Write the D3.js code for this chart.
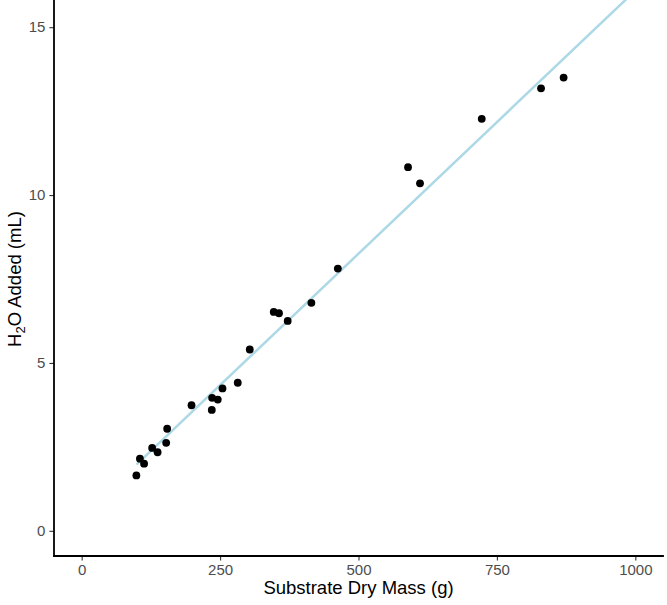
<!DOCTYPE html>
<html>
<head>
<meta charset="utf-8">
<script src="https://cdn.jsdelivr.net/npm/d3@7"></script>
<style>
  html, body { margin: 0; padding: 0; background: #fff; }
  svg { display: block; font-family: "Liberation Sans", Arial, Helvetica, sans-serif; }
</style>
</head>
<body>
<svg id="chart" width="667" height="605"></svg>
<script>
// Data
const dryMass = [98.8, 105.2, 112.7, 127.3, 137.1, 152.6, 154.4, 198.4, 235.0, 235.6, 245.8, 254.3,
                 281.9, 303.6, 346.9, 356.4, 372.1, 414.9, 462.7, 589.5, 611.1, 722.6, 829.7, 870.5];
const waterAdded = [1.65, 2.15, 2.00, 2.47, 2.34, 2.62, 3.04, 3.74, 3.60, 3.96, 3.91, 4.24,
                    4.41, 5.40, 6.52, 6.48, 6.25, 6.79, 7.81, 10.83, 10.35, 12.27, 13.18, 13.50];
// Fitted line (lm) endpoints
const fitX = [99, 1000];
const fitY = [1.97, 16.09];
// Tick labels
const xTicks = [0, 250, 500, 750, 1000];
const yTicks = [0, 5, 10, 15];

const svg = d3.select("#chart");
const panel = { left: 54, right: 663, top: 2, bottom: 556 };

const x = d3.scaleLinear().domain([-50, 1050]).range([panel.left, panel.right]);
const y = d3.scaleLinear().domain([-0.75, 15.75]).range([panel.bottom, panel.top]);

svg.append("defs").append("clipPath").attr("id", "clip")
  .append("rect")
  .attr("x", panel.left).attr("y", panel.top - 2)
  .attr("width", panel.right - panel.left).attr("height", panel.bottom - panel.top + 2);

const plot = svg.append("g").attr("clip-path", "url(#clip)");

// regression line
const lineData = fitX.map((d, i) => [d, fitY[i]]);
plot.append("path")
  .datum(lineData)
  .attr("d", d3.line().x(d => x(d[0])).y(d => y(d[1])))
  .attr("fill", "none")
  .attr("stroke", "#ADD8E6")
  .attr("stroke-width", 2.5);

// points
plot.selectAll("circle.pt")
  .data(dryMass.map((d, i) => [d, waterAdded[i]]))
  .join("circle")
  .attr("class", "pt")
  .attr("cx", d => x(d[0]))
  .attr("cy", d => y(d[1]))
  .attr("r", 3.9)
  .attr("fill", "#000");

// axes
const xAxis = d3.axisBottom(x).tickValues(xTicks).tickSize(4.6).tickPadding(4).tickFormat(d3.format("d"));
const yAxis = d3.axisLeft(y).tickValues(yTicks).tickSize(4.6).tickPadding(4).tickFormat(d3.format("d"));

const gx = svg.append("g").attr("transform", `translate(0,${panel.bottom})`).call(xAxis);
const gy = svg.append("g").attr("transform", `translate(${panel.left},0)`).call(yAxis);

[gx, gy].forEach(g => {
  g.select(".domain").remove();
  g.selectAll(".tick line").attr("stroke", "#333333").attr("stroke-width", 1.1);
  g.selectAll(".tick text").attr("fill", "#4d4d4d").attr("font-size", "15px")
    .attr("font-family", "'Liberation Sans', Arial, Helvetica, sans-serif");
});

// axis lines
svg.append("line").attr("x1", panel.left).attr("x2", panel.right)
  .attr("y1", panel.bottom).attr("y2", panel.bottom)
  .attr("stroke", "#000").attr("stroke-width", 1.8).attr("stroke-linecap", "square");
svg.append("line").attr("x1", panel.left).attr("x2", panel.left)
  .attr("y1", panel.top - 2).attr("y2", panel.bottom)
  .attr("stroke", "#000").attr("stroke-width", 1.8).attr("stroke-linecap", "square");

// axis titles
svg.append("text")
  .attr("x", (panel.left + panel.right) / 2)
  .attr("y", 594)
  .attr("text-anchor", "middle")
  .attr("font-size", "18.5px")
  .attr("fill", "#000")
  .text("Substrate Dry Mass (g)");

const yt = svg.append("text")
  .attr("transform", `translate(21,${(panel.top + panel.bottom) / 2}) rotate(-90)`)
  .attr("text-anchor", "middle")
  .attr("font-size", "18.5px")
  .attr("fill", "#000");
yt.append("tspan").text("H");
yt.append("tspan").attr("font-size", "13px").attr("dy", "4").text("2");
yt.append("tspan").attr("dy", "-4").text("O Added (mL)");
</script>
</body>
</html>
